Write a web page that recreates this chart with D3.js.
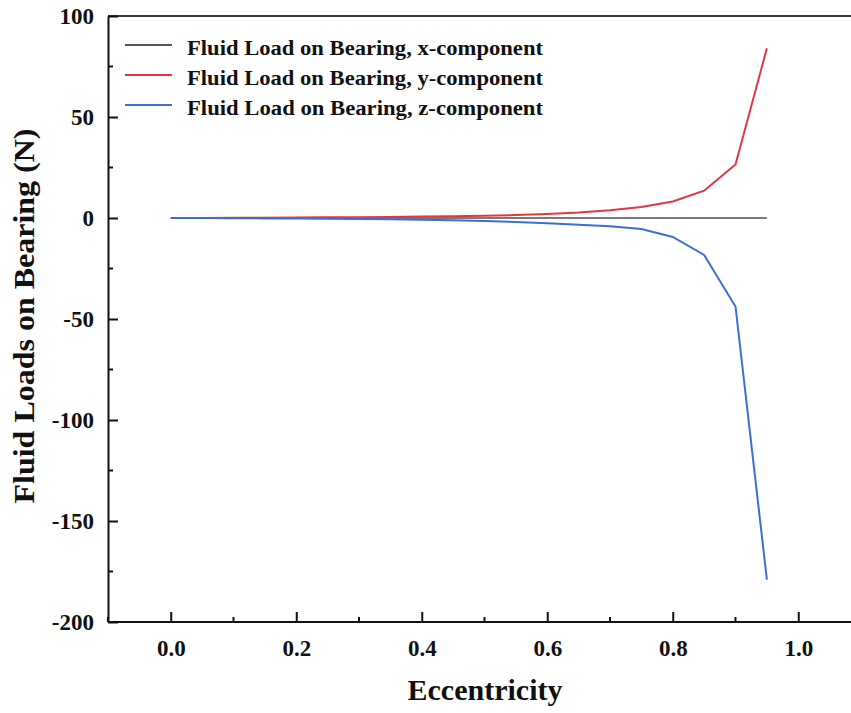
<!DOCTYPE html>
<html>
<head>
<meta charset="utf-8">
<script src="https://d3js.org/d3.v7.min.js"></script>
<style>
  body { margin: 0; background: #fff; }
  svg { display: block; }
  text { font-family: "Times New Roman", "Liberation Serif", Tinos, serif; font-weight: bold; fill: #111; }
</style>
</head>
<body>
<div id="viz"></div>
<script>
// eccentricity values
let ecc = [0, 0.05, 0.1, 0.15, 0.2, 0.25, 0.3, 0.35, 0.4, 0.45, 0.5, 0.55, 0.6, 0.65, 0.7, 0.75, 0.8, 0.85, 0.9, 0.95];
// fluid loads (N)
let load_x = [0, 0, 0, 0, 0, 0, 0, 0, 0, 0, 0, 0, 0, 0, 0, 0, 0, 0, 0, 0];
let load_y = [0, 0.05, 0.1, 0.17, 0.25, 0.33, 0.43, 0.55, 0.7, 0.88, 1.1, 1.45, 1.95, 2.7, 3.8, 5.4, 8.2, 13.5, 26.5, 84];
let load_z = [0, -0.06, -0.12, -0.19, -0.28, -0.38, -0.5, -0.65, -0.85, -1.1, -1.45, -1.95, -2.6, -3.4, -4.1, -5.5, -9.4, -18.3, -43.8, -179];
let series_names = ['Fluid Load on Bearing, x-component', 'Fluid Load on Bearing, y-component', 'Fluid Load on Bearing, z-component'];
let series_colors = ['#7a7a7a', '#e3363f', '#3a6fd8'];
let x_ticks = [0, 0.2, 0.4, 0.6, 0.8, 1.0];
let x_minor = [-0.1, 0.1, 0.3, 0.5, 0.7, 0.9, 1.1];
let y_ticks = [100, 50, 0, -50, -100, -150, -200];
let y_minor = [75, 25, -25, -75, -125, -175];

const serif = '"Times New Roman", "Liberation Serif", Tinos, serif';

window.onload = function () {
    draw()
}

function draw() {
    const width = 851, height = 713;
    const svg = d3.select('#viz').append('svg')
        .attr('width', width)
        .attr('height', height);

    const x = d3.scaleLinear().domain([-0.1, 1.1]).range([108, 861]);
    const y = d3.scaleLinear().domain([-200, 100]).range([622, 16]);

    // top border
    svg.append('line')
        .attr('x1', x(-0.1)).attr('x2', width)
        .attr('y1', y(100)).attr('y2', y(100))
        .attr('stroke', '#3a3a3a').attr('stroke-width', 2);

    // lines
    const series = [load_x, load_y, load_z];
    const line = d3.line().x((d, i) => x(ecc[i])).y(d => y(d));
    series.forEach(function (s, k) {
        svg.append('path')
            .datum(s)
            .attr('d', line)
            .attr('fill', 'none')
            .attr('stroke', series_colors[k])
            .attr('stroke-width', 2);
    });

    // bottom axis
    const xAxis = svg.append('g').attr('transform', 'translate(0,' + y(-200) + ')')
        .call(d3.axisBottom(x).tickValues(x_ticks).tickSizeInner(-10).tickSizeOuter(0)
            .tickFormat(d3.format('.1f')).tickPadding(18));
    xAxis.select('.domain').attr('stroke', '#111').attr('stroke-width', 2).attr('d', 'M' + x(-0.1) + ',0H' + width);
    xAxis.selectAll('line').attr('stroke', '#111').attr('stroke-width', 2);
    xAxis.selectAll('text').attr('font-size', 23).attr('fill', '#111')
        .attr('font-family', serif).attr('font-weight', 'bold');
    xAxis.selectAll('.minor').data(x_minor).join('line').attr('class', 'minor')
        .attr('x1', d => x(d)).attr('x2', d => x(d)).attr('y1', 0).attr('y2', -5)
        .attr('stroke', '#111').attr('stroke-width', 2);

    // left axis
    const yAxis = svg.append('g').attr('transform', 'translate(' + x(-0.1) + ',0)')
        .call(d3.axisLeft(y).tickValues(y_ticks).tickSizeInner(-10).tickSizeOuter(0)
            .tickFormat(d => String(d)).tickPadding(14));
    yAxis.select('.domain').attr('stroke', '#111').attr('stroke-width', 2);
    yAxis.selectAll('line').attr('stroke', '#111').attr('stroke-width', 2);
    yAxis.selectAll('text').attr('font-size', 23).attr('fill', '#111')
        .attr('font-family', serif).attr('font-weight', 'bold');
    yAxis.selectAll('.minor').data(y_minor).join('line').attr('class', 'minor')
        .attr('x1', 0).attr('x2', 5).attr('y1', d => y(d)).attr('y2', d => y(d))
        .attr('stroke', '#111').attr('stroke-width', 2);

    // axis titles
    svg.append('text')
        .attr('x', 485).attr('y', 700)
        .attr('text-anchor', 'middle')
        .attr('font-size', 30)
        .text('Eccentricity');
    svg.append('text')
        .attr('transform', 'translate(34,316) rotate(-90)')
        .attr('text-anchor', 'middle')
        .attr('font-size', 30)
        .attr('textLength', 375)
        .attr('lengthAdjust', 'spacingAndGlyphs')
        .text('Fluid Loads on Bearing (N)');

    // legend
    const legend = svg.append('g');
    series_names.forEach(function (name, k) {
        const ly = 45 + k * 30;
        legend.append('line')
            .attr('x1', 125).attr('x2', 172).attr('y1', ly).attr('y2', ly)
            .attr('stroke', k === 0 ? '#555' : series_colors[k]).attr('stroke-width', 2);
        legend.append('text')
            .attr('x', 187).attr('y', ly + 10)
            .attr('font-size', 20)
            .attr('textLength', 356)
            .attr('lengthAdjust', 'spacingAndGlyphs')
            .text(name);
    });
}
</script>
</body>
</html>
